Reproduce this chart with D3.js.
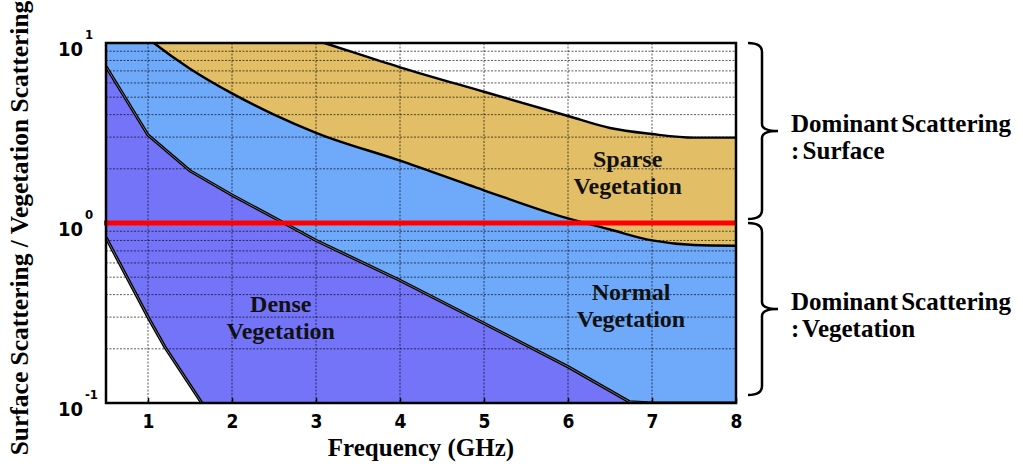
<!DOCTYPE html>
<html>
<head>
<meta charset="utf-8">
<script src="https://cdn.jsdelivr.net/npm/d3@7"></script>
<style>
  body { margin: 0; background: #fff; }
  .serif { font-family: "Liberation Serif", "Times New Roman", serif; font-weight: bold; }
  .tick text { font-family: "DejaVu Sans Condensed", "DejaVu Sans", sans-serif; font-weight: bold; }
</style>
</head>
<body>
<div id="chart"></div>
<script>
// boundary curves (frequency in GHz, ratio surface / vegetation)
let topFreq = [0.5, 3.1, 4.0, 5.0, 6.0, 6.5, 7.0, 7.5, 8.0];
let topRatio = [24, 10, 7.33, 5.36, 3.93, 3.37, 3.12, 2.98, 2.98];

let sparseFreq = [0.5, 1.07, 1.5, 2.0, 2.5, 3.0, 4.0, 5.0, 6.0, 6.5, 7.0, 7.5, 8.0];
let sparseRatio = [17, 10, 7.2, 5.25, 4.0, 3.17, 2.22, 1.52, 1.06, 0.92, 0.80, 0.755, 0.748];

let normalFreq = [0.5, 1.0, 1.5, 2.0, 2.55, 3.0, 4.0, 5.0, 6.0, 6.73, 7.0, 8.0];
let normalRatio = [7.4, 3.08, 1.95, 1.43, 1.04, 0.80, 0.48, 0.277, 0.159, 0.1016, 0.1, 0.1];

let denseFreq = [0.5, 1.0, 1.2, 1.64, 1.75];
let denseRatio = [0.83, 0.30, 0.205, 0.1, 0.085];

let freqTicks = [1, 2, 3, 4, 5, 6, 7, 8];
let ratioTicks = [0.1, 1, 10];
let ratioExponents = ["-1", "0", "1"];
let minorRatios = [0.2, 0.3, 0.4, 0.5, 0.6, 0.7, 0.8, 0.9, 2, 3, 4, 5, 6, 7, 8, 9];

let regionNames = [["Sparse", "Vegetation"], ["Normal", "Vegetation"], ["Dense", "Vegetation"]];
let regionFreq = [6.71, 6.75, 2.58];
let regionRatio = [2.05, 0.373, 0.32];

let svgWidth = 1023;
let svgHeight = 467;
let margin = { top: 43, right: 287, bottom: 64, left: 106 };
let width = svgWidth - margin.left - margin.right;
let height = svgHeight - margin.top - margin.bottom;

let svg = d3.select("#chart").append("svg")
  .attr("width", svgWidth)
  .attr("height", svgHeight);

let g = svg.append("g")
  .attr("transform", `translate(${margin.left}, ${margin.top})`);

let x = d3.scaleLinear().domain([0.5, 8]).range([0, width]);
let y = d3.scaleLog().domain([0.1, 10]).range([height, 0]);

g.append("clipPath").attr("id", "plotClip")
  .append("rect").attr("width", width).attr("height", height);

let plot = g.append("g").attr("clip-path", "url(#plotClip)");

function pts(fs, rs) { return fs.map((f, i) => [f, rs[i]]); }

// fills, layered from top region downwards
let layers = [
  { data: pts(topFreq, topRatio), fill: "#e2bf66", curve: d3.curveMonotoneX },
  { data: pts(sparseFreq, sparseRatio), fill: "#6eaaf9", curve: d3.curveMonotoneX },
  { data: pts(normalFreq, normalRatio), fill: "#7474f8", curve: d3.curveLinear },
  { data: pts(denseFreq, denseRatio), fill: "#ffffff", curve: d3.curveLinear }
];

layers.forEach(l => {
  let area = d3.area()
    .x(d => x(d[0]))
    .y0(height + 5)
    .y1(d => y(d[1]))
    .curve(l.curve);
  plot.append("path").datum(l.data)
    .attr("d", area)
    .attr("fill", l.fill);
});

// grid
plot.selectAll(".vgrid")
  .data(freqTicks)
  .enter()
  .append("line")
  .attr("x1", d => x(d)).attr("x2", d => x(d))
  .attr("y1", 0).attr("y2", height)
  .attr("stroke", "#000").attr("stroke-opacity", 0.65)
  .attr("stroke-width", 1).attr("stroke-dasharray", "2,1.5");

plot.selectAll(".hgrid")
  .data(minorRatios)
  .enter()
  .append("line")
  .attr("x1", 0).attr("x2", width)
  .attr("y1", d => y(d)).attr("y2", d => y(d))
  .attr("stroke", "#000").attr("stroke-opacity", 0.65)
  .attr("stroke-width", 1).attr("stroke-dasharray", "2,1.5");

// boundary lines
layers.forEach((l, i) => {
  let line = d3.line()
    .x(d => x(d[0]))
    .y(d => y(d[1]))
    .curve(l.curve);
  plot.append("path").datum(l.data)
    .attr("d", line)
    .attr("fill", "none")
    .attr("stroke", "#000")
    .attr("stroke-width", i >= 2 ? 3.2 : 2.4);
  if (i >= 2) {
    plot.append("path").datum(l.data)
      .attr("d", line)
      .attr("fill", "none")
      .attr("stroke", "#888")
      .attr("stroke-width", 0.8);
  }
});

// region labels
regionNames.forEach((names, i) => {
  let t = g.append("text")
    .attr("class", "serif")
    .attr("x", x(regionFreq[i]))
    .attr("y", y(regionRatio[i]))
    .attr("text-anchor", "middle")
    .style("font-size", "24px")
    .attr("fill", "#111");
  names.forEach((n, k) => {
    t.append("tspan")
      .attr("x", x(regionFreq[i]))
      .attr("dy", k === 0 ? 0 : 27)
      .text(n);
  });
});

// threshold line
g.append("line")
  .attr("x1", -2).attr("x2", width)
  .attr("y1", y(1)).attr("y2", y(1))
  .attr("stroke", "#ff0000").attr("stroke-width", 5);

// axes
let bottomAxis = d3.axisBottom(x).tickValues(freqTicks).tickSize(-5).tickPadding(12);
let xAxisG = g.append("g")
  .attr("transform", `translate(0, ${height})`)
  .call(bottomAxis);
xAxisG.select(".domain").remove();
xAxisG.selectAll(".tick line").attr("stroke-width", 1.5);
xAxisG.selectAll(".tick text").style("font-size", "19px").attr("fill", "#000");

let leftAxis = d3.axisLeft(y).tickValues(ratioTicks).tickSize(0).tickFormat("");
let yAxisG = g.append("g").call(leftAxis);
yAxisG.select(".domain").remove();
yAxisG.selectAll(".tick").each(function(d, i) {
  d3.select(this).append("text")
    .attr("x", -23).attr("y", 12)
    .attr("text-anchor", "end")
    .attr("fill", "#000")
    .style("font-size", "20px")
    .text("10");
  d3.select(this).append("text")
    .attr("x", -21).attr("y", -5)
    .attr("text-anchor", "start")
    .attr("fill", "#000")
    .style("font-size", "13px")
    .text(ratioExponents[i]);
});

// frame
g.append("rect")
  .attr("width", width).attr("height", height)
  .attr("fill", "none").attr("stroke", "#000").attr("stroke-width", 2.5);

// axis titles
svg.append("text")
  .attr("class", "serif")
  .attr("x", margin.left + width / 2)
  .attr("y", 456)
  .attr("text-anchor", "middle")
  .style("font-size", "25px")
  .text("Frequency (GHz)");

svg.append("text")
  .attr("class", "serif")
  .attr("transform", `translate(28, ${margin.top + height / 2 + 5}) rotate(-90)`)
  .attr("text-anchor", "middle")
  .style("font-size", "25.5px")
  .text("Surface Scattering / Vegetation Scattering");

// braces on the right
function brace(yTop, yBot) {
  let xL = margin.left + width + 12, xV = xL + 14, xT = xV + 16;
  let ym = (yTop + yBot) / 2;
  return `M${xL},${yTop} Q${xV},${yTop} ${xV},${yTop + 9} L${xV},${ym - 7} Q${xV},${ym} ${xT},${ym}`
    + ` Q${xV},${ym} ${xV},${ym + 7} L${xV},${yBot - 9} Q${xV},${yBot} ${xL},${yBot}`;
}

let braceSpans = [[y(10), y(1) - 4], [y(1) + 0, y(0.1) - 8]];
let braceText = [": Surface", ": Vegetation"];

braceSpans.forEach((s, i) => {
  svg.append("path")
    .attr("d", brace(margin.top + s[0], margin.top + s[1]))
    .attr("fill", "none")
    .attr("stroke", "#000")
    .attr("stroke-width", 2.5);
  let ym = margin.top + (s[0] + s[1]) / 2;
  let t = svg.append("text")
    .attr("class", "serif")
    .attr("x", 791)
    .attr("y", ym + 1)
    .style("font-size", "25px")
    .style("word-spacing", "-3px");
  t.append("tspan").attr("x", 791).text("Dominant Scattering");
  t.append("tspan").attr("x", 791).attr("dy", 27).text(braceText[i]);
});
</script>
</body>
</html>
